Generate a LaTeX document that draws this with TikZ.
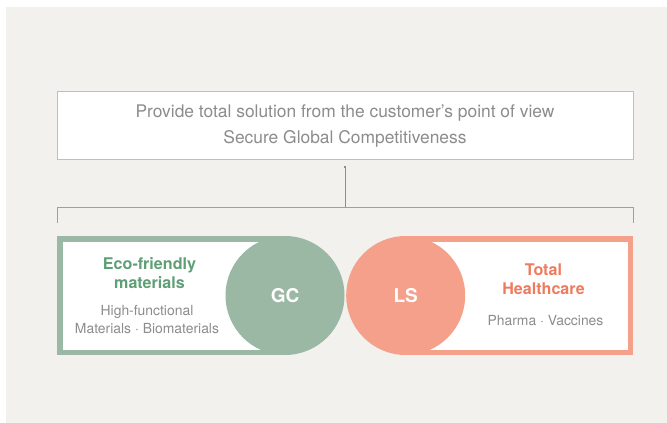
\documentclass[tikz,border=0pt]{standalone}
\usepackage{fontspec}
\setmainfont{TeX Gyre Heros}
\usetikzlibrary{arrows.meta}
\definecolor{bg}{HTML}{F3F1ED}
\definecolor{boxline}{HTML}{BEBEBE}
\definecolor{linegray}{HTML}{8E8E8E}
\definecolor{txtgray}{HTML}{8C8C8C}
\definecolor{gcgreen}{HTML}{9BB8A5}
\definecolor{gctext}{HTML}{5F9F76}
\definecolor{lssalmon}{HTML}{F5A08A}
\definecolor{lstext}{HTML}{EF7B5E}
\tikzset{
  x=1pt, y=-1pt,
  maintext/.style={font=\fontsize{17.4}{26}\selectfont, text=txtgray, align=center},
  headg/.style={font=\fontsize{16.1}{19}\selectfont\bfseries, text=gctext, align=center},
  heads/.style={font=\fontsize{16.1}{19}\selectfont\bfseries, text=lstext, align=center},
  subtext/.style={font=\fontsize{13.9}{18.5}\selectfont, text=txtgray, align=center},
  circlabel/.style={font=\fontsize{19}{19}\selectfont\bfseries, text=white},
  bracket/.style={draw=linegray!85, line width=0.9pt},
}
\begin{document}
\begin{tikzpicture}
\useasboundingbox (0,0) rectangle (667,423);
\fill[bg] (6,7) rectangle (667,422.5);
% top box
\node[draw=boxline, line width=0.9pt, fill=white, minimum width=576pt, minimum height=68pt, inner sep=0pt] (top) at (345,125) {};
\node[maintext] (toptext) at (345,126) {Provide total solution from the customer’s point of view\\Secure Global Competitiveness};
% bracket
\coordinate (bl) at (57,222.5);
\coordinate (bm) at (345,207);
\coordinate (br) at (633,222.5);
\coordinate (arrtop) at (345,166);
\draw[bracket] (bl) -- (57,207) -- (633,207) -- (br);
\draw[draw=linegray, line width=0.9pt, -{Square[length=1.6pt,width=2.2pt]}] (bm) -- (arrtop);
% left panel (GC)
\fill[gcgreen] (57,236) rectangle (285,355);
\fill[white] (62.5,241.5) rectangle (285,349.5);
\node[circle, fill=gcgreen, minimum size=119pt, inner sep=0pt] (gc) at (285,295.5) {};
\node[circlabel] at (gc.center) {GC};
\node[headg] (eco) at (149.5,273) {Eco-friendly\\materials};
\node[subtext] (ecosub) at (147,319.5) {High-functional\\Materials · Biomaterials};
% right panel (LS)
\fill[lssalmon] (405.7,236) rectangle (633,355);
\fill[white] (405.7,241.5) rectangle (627.7,349.5);
\node[circle, fill=lssalmon, minimum size=119pt, inner sep=0pt] (ls) at (405.7,295.5) {};
\node[circlabel] at (ls.center) {LS};
\node[heads] (th) at (543.5,279) {Total\\Healthcare};
\node[subtext] (thsub) at (545.5,320.5) {Pharma · Vaccines};
\end{tikzpicture}
\end{document}
